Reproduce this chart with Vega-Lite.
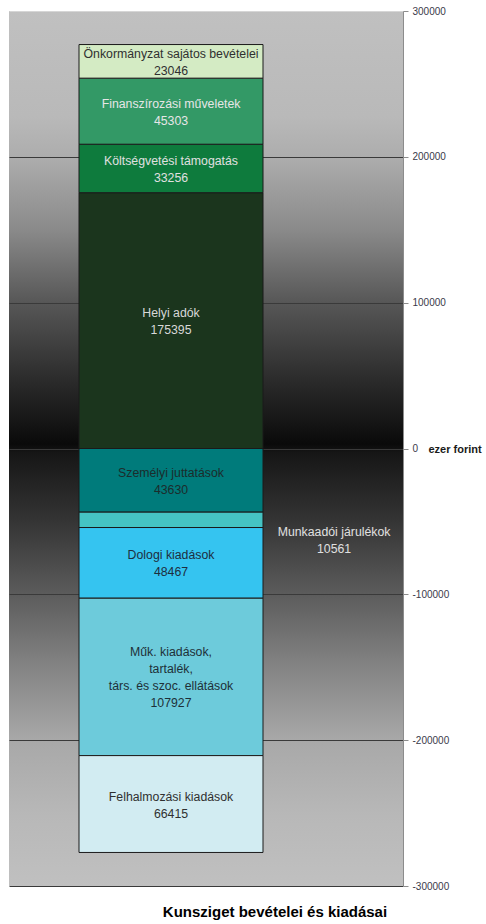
{
  "$schema": "https://vega.github.io/schema/vega-lite/v6.json",
  "width": 394,
  "height": 875,
  "autosize": {"type": "none"},
  "padding": {"left": 9, "top": 11, "right": 83, "bottom": 38},
  "background": "#ffffff",
  "view": {
    "stroke": null,
    "fill": {
      "gradient": "linear",
      "x1": 0, "y1": 0, "x2": 0, "y2": 1,
      "stops": [
        {"offset": 0, "color": "#c0c0c0"},
        {"offset": 0.12, "color": "#b9b9b9"},
        {"offset": 0.1667, "color": "#adadad"},
        {"offset": 0.25, "color": "#8a8a8a"},
        {"offset": 0.333, "color": "#575757"},
        {"offset": 0.42, "color": "#2c2c2c"},
        {"offset": 0.495, "color": "#0a0a0a"},
        {"offset": 0.505, "color": "#161616"},
        {"offset": 0.58, "color": "#333333"},
        {"offset": 0.667, "color": "#5c5c5c"},
        {"offset": 0.75, "color": "#848484"},
        {"offset": 0.833, "color": "#a8a8a8"},
        {"offset": 0.92, "color": "#b8b8b8"},
        {"offset": 1, "color": "#c0c0c0"}
      ]
    }
  },
  "config": {"font": "Liberation Sans"},
  "title": {
    "text": "Kunsziget bevételei és kiadásai",
    "orient": "bottom",
    "anchor": "middle",
    "dx": 69,
    "offset": 14,
    "font": "Liberation Sans",
    "fontSize": 15,
    "fontWeight": "bold",
    "color": "#000000"
  },
  "data": {
    "values": [
      {"tetel": "Helyi adók", "osszeg": 175395, "sorrend": 1, "felirat": "Helyi adók\n175395"},
      {"tetel": "Költségvetési támogatás", "osszeg": 33256, "sorrend": 2, "felirat": "Költségvetési támogatás\n33256"},
      {"tetel": "Finanszírozási műveletek", "osszeg": 45303, "sorrend": 3, "felirat": "Finanszírozási műveletek\n45303"},
      {"tetel": "Önkormányzat sajátos bevételei", "osszeg": 23046, "sorrend": 4, "felirat": "Önkormányzat sajátos bevételei\n23046"},
      {"tetel": "Személyi juttatások", "osszeg": -43630, "sorrend": 1, "felirat": "Személyi juttatások\n43630"},
      {"tetel": "Munkaadói járulékok", "osszeg": -10561, "sorrend": 2, "felirat": "Munkaadói járulékok\n10561"},
      {"tetel": "Dologi kiadások", "osszeg": -48467, "sorrend": 3, "felirat": "Dologi kiadások\n48467"},
      {"tetel": "Műk. kiadások", "osszeg": -107927, "sorrend": 4, "felirat": "Műk. kiadások,\ntartalék,\ntárs. és szoc. ellátások\n107927"},
      {"tetel": "Felhalmozási kiadások", "osszeg": -66415, "sorrend": 5, "felirat": "Felhalmozási kiadások\n66415"}
    ]
  },
  "transform": [
    {"stack": "osszeg", "groupby": [], "sort": [{"field": "sorrend", "order": "ascending"}], "as": ["y0", "y1"]}
  ],
  "layer": [
    {
      "mark": {"type": "rect", "stroke": "#1a1a1a", "strokeWidth": 1},
      "encoding": {
        "x": {"datum": 17.77, "type": "quantitative", "scale": {"domain": [0, 100], "nice": false, "zero": false}, "axis": null},
        "x2": {"datum": 64.47},
        "y": {
          "field": "y0", "type": "quantitative",
          "scale": {"domain": [-300000, 300000], "nice": false},
          "axis": {
            "orient": "right",
            "values": [-300000, -200000, -100000, 0, 100000, 200000, 300000],
            "grid": true,
            "gridColor": {"condition": {"test": "datum.value === 300000", "value": "#d6d6d6"}, "value": "#3a3a3a"},
            "gridWidth": 1,
            "domainColor": "#8c8c8c",
            "tickColor": "#8c8c8c",
            "tickSize": 5,
            "labelFontSize": 10,
            "labelColor": "#3a3a4a",
            "labelPadding": 4,
            "labelFont": "Liberation Sans",
            "labelFlush": false,
            "labelExpr": "'' + datum.value",
            "title": "ezer forint",
            "titleAngle": 0,
            "titleAlign": "left",
            "titleBaseline": "middle",
            "titleX": 25,
            "titleY": 438,
            "titleFont": "Liberation Sans",
            "titleFontSize": 11,
            "titleFontWeight": "bold",
            "titleColor": "#1a1a1a"
          }
        },
        "y2": {"field": "y1"},
        "fill": {
          "field": "tetel", "type": "nominal", "legend": null,
          "scale": {
            "domain": ["Önkormányzat sajátos bevételei", "Finanszírozási műveletek", "Költségvetési támogatás", "Helyi adók", "Személyi juttatások", "Munkaadói járulékok", "Dologi kiadások", "Műk. kiadások", "Felhalmozási kiadások"],
            "range": ["#d4ebc4", "#339966", "#0e7b3d", "#1b351d", "#007b7b", "#45c3c3", "#35c4f0", "#6dcbdb", "#d2ecf2"]
          }
        }
      }
    },
    {
      "transform": [{"filter": "datum.tetel !== 'Munkaadói járulékok'"}],
      "mark": {
        "type": "text", "font": "Liberation Sans", "fontSize": 12.3, "lineHeight": 17, "lineBreak": "\n", "baseline": "middle", "align": "center",
        "dy": {"expr": "(scale('y', datum.y1) - scale('y', datum.y0)) / 2 - (length(split(datum.felirat, '\\n')) - 1) * 8.5 + 1"}
      },
      "encoding": {
        "x": {"datum": 41.12, "type": "quantitative"},
        "y": {"field": "y0", "type": "quantitative"},
        "text": {"field": "felirat", "type": "nominal"},
        "color": {
          "field": "tetel", "type": "nominal", "legend": null,
          "scale": {
            "domain": ["Önkormányzat sajátos bevételei", "Finanszírozási műveletek", "Költségvetési támogatás", "Helyi adók", "Személyi juttatások", "Munkaadói járulékok", "Dologi kiadások", "Műk. kiadások", "Felhalmozási kiadások"],
            "range": ["#303030", "#e6e6e6", "#e0e0e0", "#d8d8d8", "#1c2c2c", "#e0e0e0", "#1e2e3e", "#1e3038", "#303030"]
          }
        }
      }
    },
    {
      "transform": [{"filter": "datum.tetel === 'Munkaadói járulékok'"}],
      "mark": {
        "type": "text", "font": "Liberation Sans", "fontSize": 12.3, "lineHeight": 17, "lineBreak": "\n", "baseline": "middle", "align": "center", "color": "#e0e0e0",
        "dy": {"expr": "(scale('y', datum.y1) - scale('y', datum.y0)) / 2 + 12.5"}
      },
      "encoding": {
        "x": {"datum": 82.5, "type": "quantitative"},
        "y": {"field": "y0", "type": "quantitative"},
        "text": {"field": "felirat", "type": "nominal"}
      }
    }
  ]
}
